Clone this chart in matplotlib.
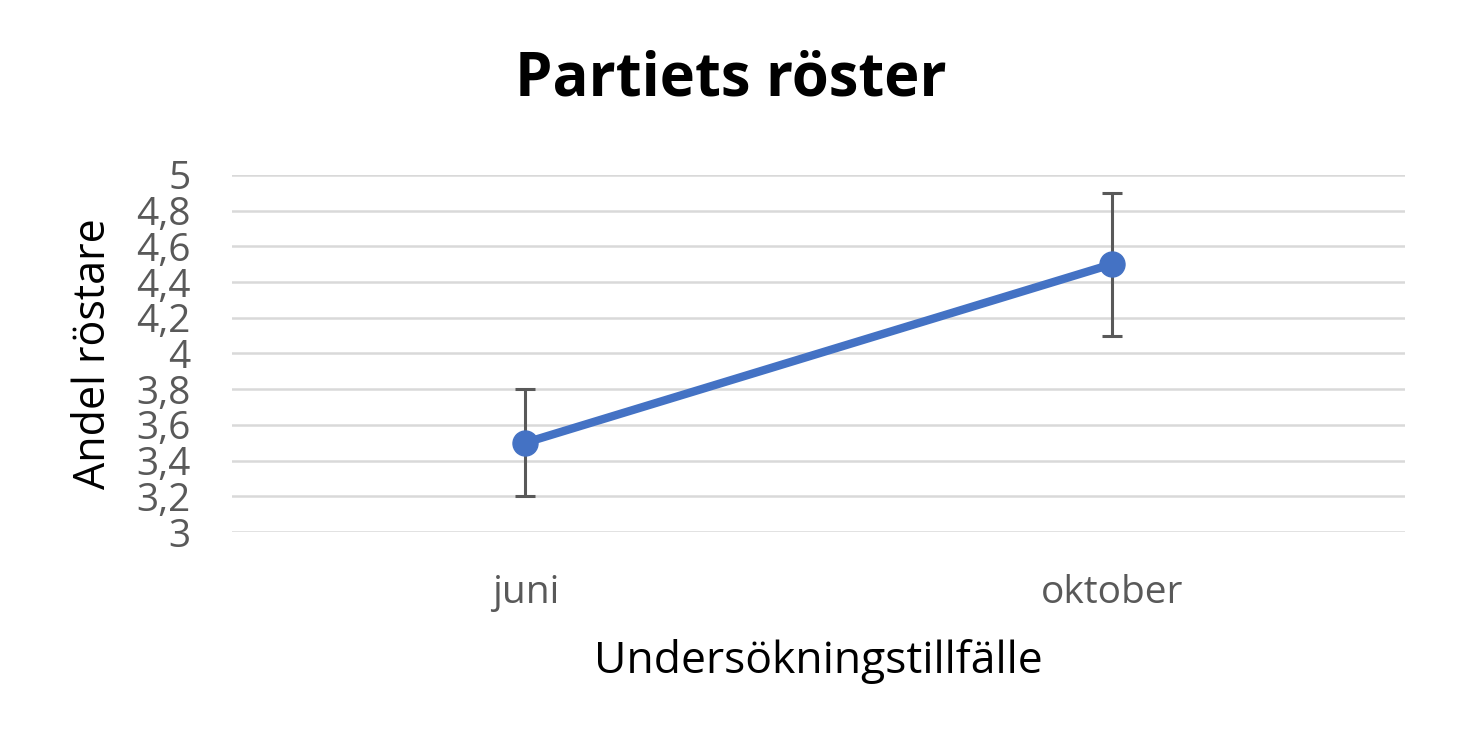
import matplotlib.pyplot as plt
import matplotlib.ticker as ticker

categories = ["juni", "oktober"]
values = [3.5, 4.5]
errors = [0.3, 0.4]
y_ticks = [3, 3.2, 3.4, 3.6, 3.8, 4, 4.2, 4.4, 4.6, 4.8, 5]

plt.rcParams["font.family"] = ["Open Sans", "DejaVu Sans"]

fig = plt.figure(figsize=(14.62, 7.51), dpi=100)
ax = fig.add_axes([0.1587, 0.2916, 0.8023, 0.4754])

x = list(range(len(categories)))
ax.errorbar(x, values, yerr=errors, fmt="none", ecolor="#595959",
            elinewidth=2.2, capsize=7.5, capthick=2.2, zorder=2)
ax.plot(x, values, color="#4472C4", linewidth=6, marker="o",
        markersize=18, zorder=3)

ax.set_xlim(-0.5, 1.5)
ax.set_ylim(3, 5)
ax.set_xticks(x)
ax.set_xticklabels(categories)
ax.set_yticks(y_ticks)
ax.yaxis.set_major_formatter(ticker.FuncFormatter(lambda v, _: f"{v:g}".replace(".", ",")))

ax.grid(axis="y", color="#d9d9d9", linewidth=1.8)
ax.set_axisbelow(True)
for s in ax.spines.values():
    s.set_visible(False)
ax.tick_params(axis="both", length=0, labelsize=28, labelcolor="#595959")
ax.tick_params(axis="x", pad=30)
ax.tick_params(axis="y", pad=30)

ax.set_xlabel("Undersökningstillfälle", fontsize=32, labelpad=20)
ax.set_ylabel("Andel röstare", fontsize=31, labelpad=14)
fig.text(0.5, 1 - 80 / 751, "Partiets röster", fontsize=43,
         fontweight="bold", ha="center", va="center")

fig.savefig("out.png", dpi=100)
